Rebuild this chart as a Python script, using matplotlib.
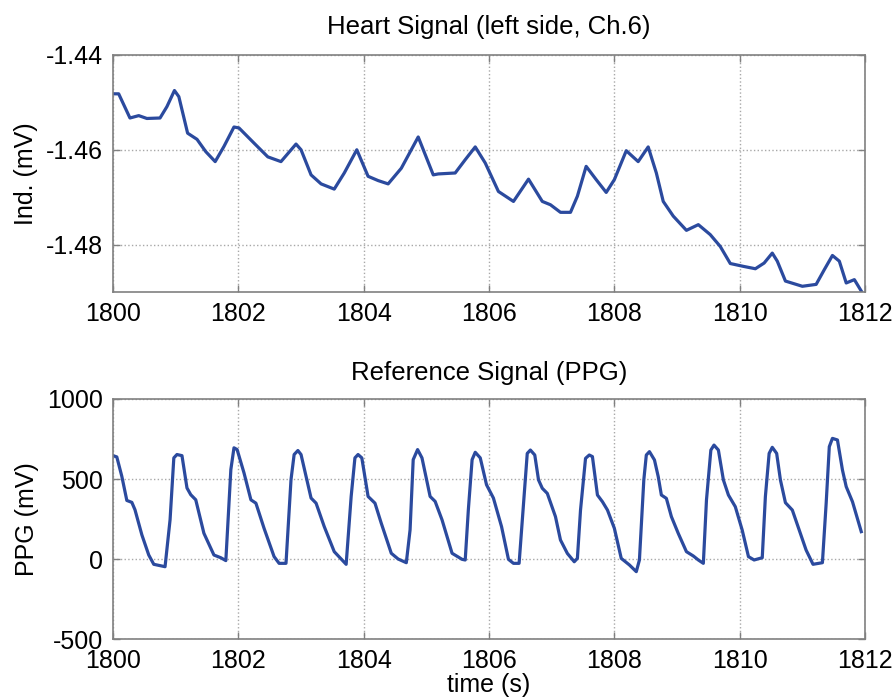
import matplotlib
matplotlib.use("Agg")
import matplotlib.pyplot as plt
import numpy as np

plt.rcParams['font.family'] = ['Liberation Sans', 'DejaVu Sans']
plt.rcParams['axes.unicode_minus'] = False

# ---- Data: heart signal (left side, Ch.6) ----
heart_t = [1800.00, 1800.09, 1800.27, 1800.41, 1800.54, 1800.75, 1800.86, 1800.98, 1801.05,
           1801.19, 1801.34, 1801.48, 1801.63, 1801.77, 1801.93, 1802.01, 1802.25, 1802.47,
           1802.68, 1802.92, 1803.00, 1803.16, 1803.32, 1803.53, 1803.69, 1803.89, 1804.07,
           1804.23, 1804.39, 1804.60, 1804.87, 1805.11, 1805.19, 1805.46, 1805.62, 1805.78,
           1805.94, 1806.15, 1806.39, 1806.63, 1806.85, 1806.98, 1807.14, 1807.30, 1807.41,
           1807.55, 1807.71, 1807.87, 1808.00, 1808.19, 1808.38, 1808.54, 1808.67, 1808.78,
           1808.94, 1809.15, 1809.34, 1809.53, 1809.69, 1809.85, 1810.06, 1810.25, 1810.39,
           1810.52, 1810.60, 1810.73, 1811.00, 1811.22, 1811.35, 1811.48, 1811.59, 1811.70,
           1811.83, 1811.94]
heart_v = [-1.4482, -1.4482, -1.4533, -1.4528, -1.4534, -1.4533, -1.4509, -1.4475, -1.4488,
           -1.4565, -1.4578, -1.4604, -1.4625, -1.4593, -1.4552, -1.4554, -1.4586, -1.4615,
           -1.4625, -1.4588, -1.4600, -1.4653, -1.4672, -1.4683, -1.4649, -1.4600, -1.4656,
           -1.4665, -1.4672, -1.4639, -1.4573, -1.4653, -1.4651, -1.4649, -1.4621, -1.4594,
           -1.4628, -1.4688, -1.4709, -1.4662, -1.4709, -1.4716, -1.4732, -1.4732, -1.4698,
           -1.4635, -1.4663, -1.4690, -1.4663, -1.4602, -1.4625, -1.4594, -1.4649, -1.4709,
           -1.4740, -1.4770, -1.4758, -1.4779, -1.4804, -1.4840, -1.4846, -1.4851, -1.4839,
           -1.4818, -1.4835, -1.4877, -1.4888, -1.4884, -1.4853, -1.4823, -1.4835, -1.4881,
           -1.4874, -1.4898]

# ---- Data: reference signal (PPG) ----
ppg_t = [1800.00, 1800.06, 1800.14, 1800.22, 1800.30, 1800.35, 1800.46, 1800.57, 1800.65,
         1800.83, 1800.91, 1800.97, 1801.02, 1801.10, 1801.18, 1801.24, 1801.32, 1801.45,
         1801.61, 1801.72, 1801.80, 1801.88, 1801.93, 1801.98, 1802.09, 1802.20, 1802.28,
         1802.41, 1802.57, 1802.65, 1802.76, 1802.84, 1802.89, 1802.95, 1803.00, 1803.08,
         1803.16, 1803.24, 1803.37, 1803.53, 1803.72, 1803.80, 1803.86, 1803.91, 1803.97,
         1804.07, 1804.18, 1804.28, 1804.44, 1804.55, 1804.68, 1804.74, 1804.79, 1804.86,
         1804.93, 1805.01, 1805.06, 1805.14, 1805.25, 1805.41, 1805.57, 1805.62, 1805.67,
         1805.73, 1805.78, 1805.86, 1805.96, 1806.07, 1806.20, 1806.31, 1806.39, 1806.48,
         1806.55, 1806.61, 1806.66, 1806.73, 1806.79, 1806.85, 1806.93, 1807.06, 1807.14,
         1807.25, 1807.36, 1807.41, 1807.46, 1807.54, 1807.60, 1807.65, 1807.73, 1807.81,
         1807.89, 1808.00, 1808.11, 1808.24, 1808.35, 1808.40, 1808.47, 1808.51, 1808.56,
         1808.64, 1808.70, 1808.75, 1808.83, 1808.91, 1809.02, 1809.15, 1809.26, 1809.34,
         1809.42, 1809.47, 1809.54, 1809.59, 1809.66, 1809.74, 1809.82, 1809.93, 1810.04,
         1810.14, 1810.23, 1810.36, 1810.41, 1810.47, 1810.52, 1810.59, 1810.65, 1810.73,
         1810.84, 1810.95, 1811.06, 1811.17, 1811.32, 1811.38, 1811.43, 1811.48, 1811.56,
         1811.64, 1811.70, 1811.80, 1811.94]
ppg_v = [646, 638, 517, 366, 354, 308, 151, 25, -33,
         -48, 245, 632, 653, 646, 444, 402, 370, 161,
         25, 8, -10, 559, 695, 684, 538, 370, 349,
         192, 15, -27, -27, 496, 653, 678, 653, 517,
         381, 349, 203, 46, -33, 391, 632, 653, 632,
         391, 349, 224, 36, 0, -23, 182, 621, 684,
         632, 485, 391, 360, 245, 36, -2, -6, 308,
         621, 667, 632, 464, 381, 202, -2, -27, -27,
         348, 660, 681, 650, 494, 442, 410, 265, 119,
         35, -17, 4, 306, 629, 650, 640, 400, 358,
         306, 192, 4, -37, -79, -6, 494, 650, 671,
         619, 515, 400, 379, 265, 160, 46, 19, -6,
         -27, 369, 681, 712, 681, 494, 400, 327, 181,
         15, -6, 8, 390, 660, 698, 660, 494, 352,
         306, 181, 56, -33, -23, 348, 702, 754, 744,
         556, 452, 358, 171]

x_ticks = [1800, 1802, 1804, 1806, 1808, 1810, 1812]
heart_yticks = [-1.44, -1.46, -1.48]
ppg_yticks = [1000, 500, 0, -500]

line_color = '#2b4a9e'
fs = 18
title_fs = 18.5

fig = plt.figure(figsize=(8.95, 7.0), dpi=100)
ax1 = fig.add_axes([0.1263, 0.5829, 0.8402, 0.3386])
ax2 = fig.add_axes([0.1263, 0.0871, 0.8402, 0.3429])


def style(ax):
    for s in ax.spines.values():
        s.set_color('#808080')
        s.set_linewidth(1.2)
    ax.tick_params(direction='in', length=5, width=1, color='#808080',
                   labelsize=fs, top=True, right=True, pad=7)
    ax.grid(True, linestyle=':', color='#a8a8a8', linewidth=1.0)
    ax.set_xticks(x_ticks)
    ax.set_xlim(1800, 1812)


ax1.plot(heart_t, heart_v, color=line_color, linewidth=2.3)
style(ax1)
ax1.set_ylim(-1.49, -1.44)
ax1.set_yticks(heart_yticks)
ax1.set_yticklabels(['%.2f' % v for v in heart_yticks])
ax1.set_ylabel('Ind. (mV)', fontsize=fs, labelpad=6)
ax1.set_title('Heart Signal (left side, Ch.6)', fontsize=title_fs, pad=15)

ax2.plot(ppg_t, ppg_v, color=line_color, linewidth=2.3)
style(ax2)
ax2.set_ylim(-500, 1000)
ax2.set_yticks(ppg_yticks)
ax2.set_ylabel('PPG (mV)', fontsize=fs, labelpad=6)
ax2.set_xlabel('time (s)', fontsize=fs, labelpad=0)
ax2.set_title('Reference Signal (PPG)', fontsize=title_fs, pad=14)

fig.savefig('out.png', dpi=100)
